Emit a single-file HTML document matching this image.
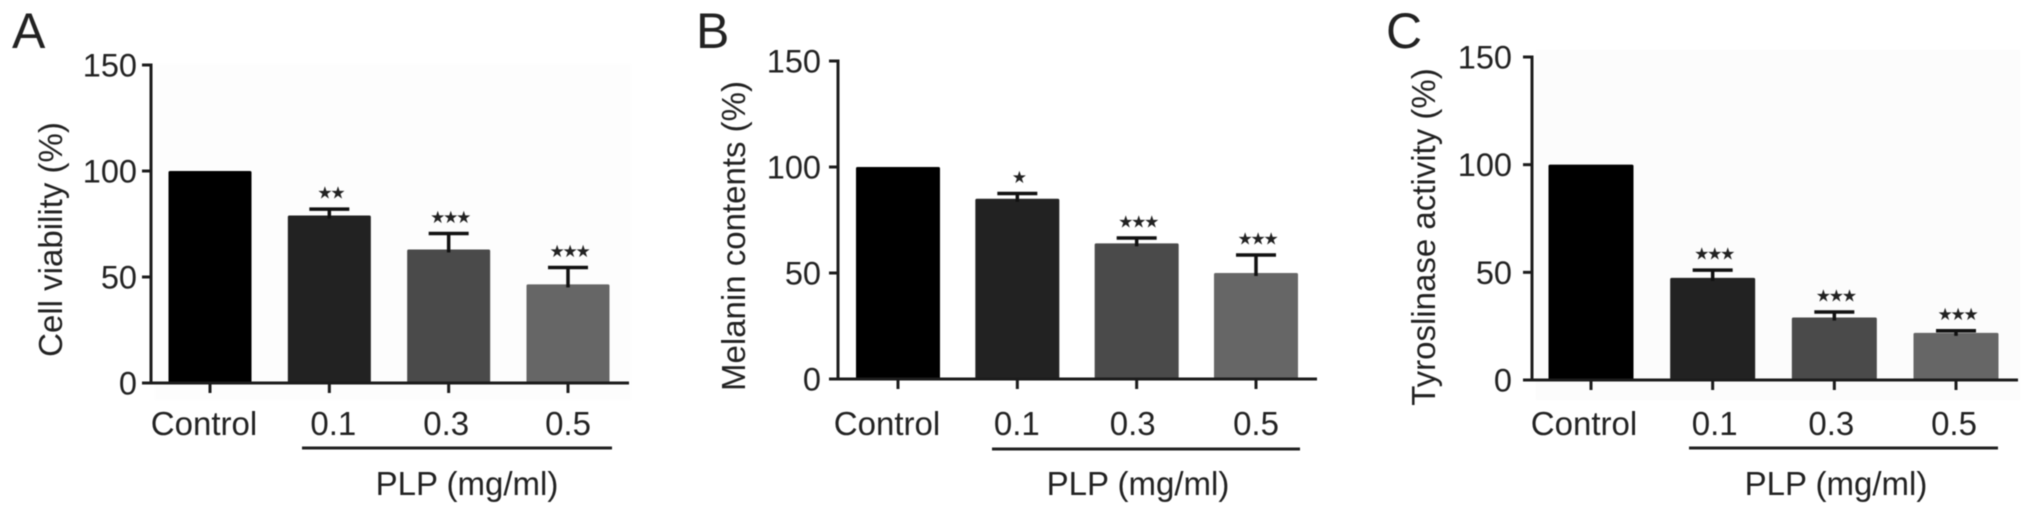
<!DOCTYPE html>
<html lang="en">
<head>
<meta charset="utf-8">
<title>PLP bar charts</title>
<style>
  html, body { margin: 0; padding: 0; background: #fff; }
  #figure { display: block; width: 2032px; height: 516px; filter: blur(0.6px); }
  text { font-family: "Liberation Sans", Arial, sans-serif; fill: #222; }
  .tick-label { font-size: 32.5px; }
  .cat-label, .group-label { font-size: 33px; }
  .axis-title { font-size: 33px; }
  .panel-letter { font-size: 50px; }
  .stars { font-family: "DejaVu Sans", sans-serif; font-size: 17px; fill: #222; }
</style>
</head>
<body>
<svg id="figure" xmlns="http://www.w3.org/2000/svg" width="2032" height="516" viewBox="0 0 2032 516"></svg>
<script>
// ----- chart data -----
const categories = ['Control', '0.1', '0.3', '0.5'];
const yTicks = [0, 50, 100, 150];
const groupLabel = 'PLP (mg/ml)';

const viabilityValues = [100, 79, 63, 46.5];
const viabilityErrors = [0, 3, 7.5, 8];
const viabilityStars = ['', '★★', '★★★', '★★★'];

const melaninValues = [100, 85, 64, 50];
const melaninErrors = [0, 2.5, 2.5, 8.5];
const melaninStars = ['', '★', '★★★', '★★★'];

const tyrosinaseValues = [100, 47.4, 29, 21.9];
const tyrosinaseErrors = [0, 3.6, 2.6, 1];
const tyrosinaseStars = ['', '★★★', '★★★', '★★★'];

const barColors = ['#000000', '#222222', '#4a4a4a', '#666666'];

// ----- panel layout -----
const panels = [
  { id: 'a', letter: 'A', letterX: 12, title: 'Cell viability (%)', titleX: 62, titleY: 239.5,
    values: viabilityValues, errors: viabilityErrors, stars: viabilityStars,
    axisX: 151, y0: 383, y150: 65, firstX: 210, lastX: 568, endX: 629, barW: 83,
    tickEnd: 137, labelY: 435, nudge: [-6, 4, -2.5, 0],
    lineFrom: 302, lineTo: 612, lineY: 448, groupX: 467, groupY: 495,
    bg: '#fdfdfd', bgX: 155, bgW: 476, bgTop: 64, bgBottom: 400 },
  { id: 'b', letter: 'B', letterX: 696, title: 'Melanin contents (%)', titleX: 745, titleY: 236,
    values: melaninValues, errors: melaninErrors, stars: melaninStars,
    axisX: 838, y0: 379, y150: 61, firstX: 898, lastX: 1256, endX: 1317, barW: 84,
    tickEnd: 821, labelY: 435, nudge: [-11, -0.5, -4, 0],
    lineFrom: 992, lineTo: 1300, lineY: 449, groupX: 1138, groupY: 495,
    bg: '#ffffff', bgX: 842, bgW: 476, bgTop: 60, bgBottom: 396 },
  { id: 'c', letter: 'C', letterX: 1386, title: 'Tyroslinase activity (%)', titleX: 1435, titleY: 237,
    values: tyrosinaseValues, errors: tyrosinaseErrors, stars: tyrosinaseStars,
    axisX: 1532, y0: 380, y150: 57, firstX: 1591, lastX: 1956, endX: 2018, barW: 85,
    tickEnd: 1512, labelY: 435, nudge: [-7, 2, -3, -2],
    lineFrom: 1689, lineTo: 1998, lineY: 448, groupX: 1836, groupY: 495,
    bg: '#fcfcfc', bgX: 1536, bgW: 484, bgTop: 50, bgBottom: 400 }
];

const SVG_NS = 'http://www.w3.org/2000/svg';
const root = document.getElementById('figure');

function make(parent, tag, attrs, content) {
  const node = document.createElementNS(SVG_NS, tag);
  for (const key in attrs) node.setAttribute(key, attrs[key]);
  if (content !== undefined) node.textContent = content;
  parent.appendChild(node);
  return node;
}

function yScale(panel) {
  return v => panel.y0 - (v / 150) * (panel.y0 - panel.y150);
}

function xScale(panel) {
  const step = (panel.lastX - panel.firstX) / (categories.length - 1);
  return i => panel.firstX + i * step;
}

panels.forEach(panel => {
  const y = yScale(panel);
  const x = xScale(panel);
  const stroke = '#1c1c1c';

  const g = make(root, 'g', {});
  
  

  const bg = make(g, 'rect', { x: panel.bgX, y: panel.bgTop, width: panel.bgW, height: panel.bgBottom - panel.bgTop, fill: panel.bg });
  
  

  const letter = make(g, 'text', { x: panel.letterX, y: 48, class: 'panel-letter' }, panel.letter);
  
  

  const title = make(g, 'text', {
    class: 'axis-title', 'text-anchor': 'middle',
    transform: 'translate(' + panel.titleX + ' ' + panel.titleY + ') rotate(-90)'
  }, panel.title);
  
  

  // bars
  panel.values.forEach((value, i) => {
    const bar = make(g, 'rect', {
      x: x(i) - panel.barW / 2, y: y(value), width: panel.barW,
      height: panel.y0 - y(value), fill: barColors[i], rx: 1.5
    });
    
    
  });

  // error bars
  panel.values.forEach((value, i) => {
    const err = panel.errors[i];
    if (!err) return;
    const top = y(value + err);
    const stem = make(g, 'line', { x1: x(i), x2: x(i), y1: y(value) + 3, y2: top, stroke: '#111', 'stroke-width': 3.5 });
    
    
    const cap = make(g, 'line', { x1: x(i) - 20, x2: x(i) + 20, y1: top, y2: top, stroke: '#111', 'stroke-width': 3.5 });
    
    
  });

  // significance stars
  panel.stars.forEach((mark, i) => {
    if (!mark) return;
    const top = y(panel.values[i] + panel.errors[i]);
    const star = make(g, 'text', {
      x: x(i) + 1, y: top - 10.5, class: 'stars', 'text-anchor': 'middle', 'letter-spacing': '-2.2'
    }, mark);
    
    
  });

  // y axis
  const yAxis = make(g, 'line', { x1: panel.axisX, x2: panel.axisX, y1: y(150) - 1.5, y2: panel.y0 + 1.5, stroke: stroke, 'stroke-width': 3 });
  
  

  yTicks.forEach(t => {
    const tick = make(g, 'line', { x1: panel.axisX - 9, x2: panel.axisX, y1: y(t), y2: y(t), stroke: stroke, 'stroke-width': 3 });
    
    
    const label = make(g, 'text', { x: panel.tickEnd, y: y(t) + 11.5, class: 'tick-label', 'text-anchor': 'end' }, String(t));
    
    
  });

  // x axis
  const xAxis = make(g, 'line', { x1: panel.axisX, x2: panel.endX, y1: panel.y0, y2: panel.y0, stroke: stroke, 'stroke-width': 3 });
  
  

  categories.forEach((cat, i) => {
    const tick = make(g, 'line', { x1: x(i), x2: x(i), y1: panel.y0, y2: panel.y0 + 10, stroke: stroke, 'stroke-width': 3 });
    
    
    const label = make(g, 'text', { x: x(i) + panel.nudge[i], y: panel.labelY, class: 'cat-label', 'text-anchor': 'middle' }, cat);
    
    
  });

  // group bracket + label
  const bracket = make(g, 'line', { x1: panel.lineFrom, x2: panel.lineTo, y1: panel.lineY, y2: panel.lineY, stroke: '#222', 'stroke-width': 3 });
  
  

  const group = make(g, 'text', { x: panel.groupX, y: panel.groupY, class: 'group-label', 'text-anchor': 'middle' }, groupLabel);
  
  
});
</script>
</body>
</html>
